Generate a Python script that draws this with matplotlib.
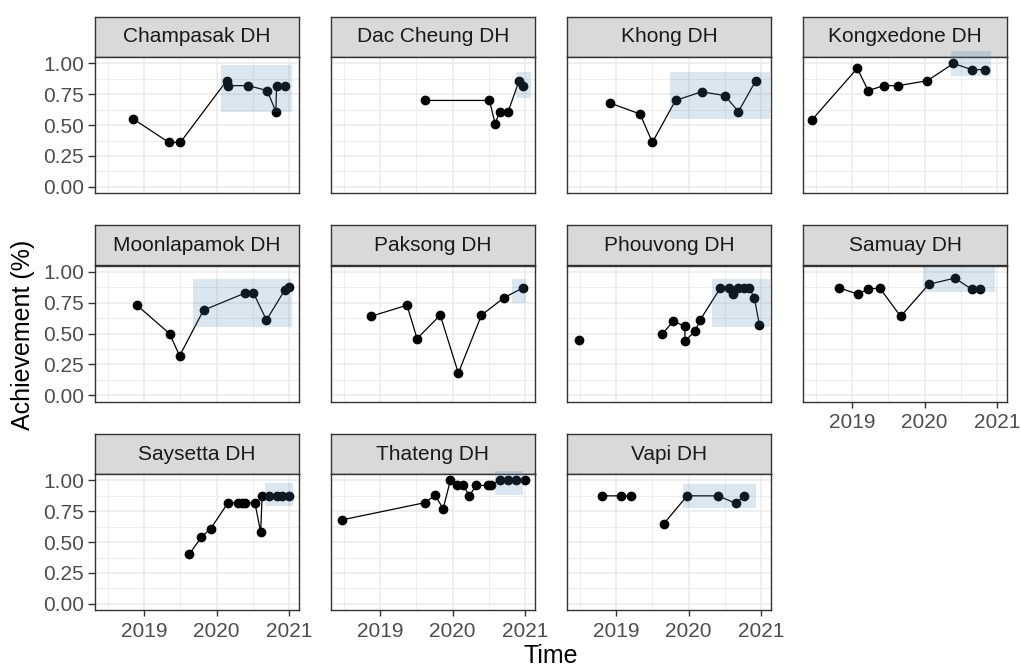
"""
Achievement over time for each district hospital, one small panel per site,
with the recent period highlighted as a shaded band.
"""

import matplotlib
matplotlib.use("Agg")
import matplotlib.pyplot as plt
import numpy as np
from matplotlib.patches import Rectangle

plt.rcParams["font.family"] = ["Liberation Sans", "DejaVu Sans"]

# ---- data (decimal years, achievement as a fraction) ----
facets = [
    "Champasak DH", "Dac Cheung DH", "Khong DH", "Kongxedone DH",
    "Moonlapamok DH", "Paksong DH", "Phouvong DH", "Samuay DH",
    "Saysetta DH", "Thateng DH", "Vapi DH",
]

champasak_t = [2018.85, 2019.34, 2019.50, 2020.14, 2020.16, 2020.44, 2020.70, 2020.82, 2020.83, 2020.95]
champasak_v = [0.55, 0.36, 0.36, 0.86, 0.82, 0.82, 0.78, 0.61, 0.82, 0.82]

dac_cheung_t = [2019.62, 2020.51, 2020.59, 2020.65, 2020.77, 2020.92, 2020.97]
dac_cheung_v = [0.70, 0.70, 0.51, 0.61, 0.61, 0.86, 0.82]

khong_t = [2018.91, 2019.33, 2019.50, 2019.82, 2020.18, 2020.50, 2020.69, 2020.93]
khong_v = [0.68, 0.59, 0.36, 0.70, 0.77, 0.74, 0.61, 0.86]

kongxedone_t = [2018.44, 2019.07, 2019.22, 2019.44, 2019.64, 2020.04, 2020.40, 2020.65, 2020.83]
kongxedone_v = [0.54, 0.96, 0.78, 0.82, 0.82, 0.86, 1.00, 0.95, 0.95]

moonlapamok_t = [2018.90, 2019.35, 2019.49, 2019.82, 2020.40, 2020.51, 2020.69, 2020.94, 2021.00]
moonlapamok_v = [0.73, 0.50, 0.32, 0.69, 0.83, 0.83, 0.61, 0.85, 0.875]

paksong_t = [2018.87, 2019.37, 2019.51, 2019.83, 2020.08, 2020.40, 2020.71, 2020.97]
paksong_v = [0.64, 0.73, 0.46, 0.65, 0.18, 0.65, 0.79, 0.87]

# NaN marks a missing month, which breaks the line
phouvong_t = [2018.49, 2019.00, 2019.64, 2019.79, 2019.95, 2019.95, 2020.09, 2020.16,
              2020.44, 2020.56, 2020.62, 2020.69, 2020.76, 2020.84, 2020.91, 2020.98]
phouvong_v = [0.45, np.nan, 0.50, 0.60, 0.56, 0.44, 0.52, 0.61,
              0.87, 0.87, 0.82, 0.87, 0.87, 0.87, 0.79, 0.57]

samuay_t = [2018.82, 2019.08, 2019.22, 2019.38, 2019.67, 2020.06, 2020.42, 2020.65, 2020.77]
samuay_v = [0.87, 0.82, 0.86, 0.87, 0.64, 0.90, 0.95, 0.86, 0.86]

saysetta_t = [2019.62, 2019.79, 2019.92, 2020.16, 2020.30, 2020.35, 2020.40, 2020.53,
              2020.61, 2020.63, 2020.73, 2020.83, 2020.91, 2021.00]
saysetta_v = [0.40, 0.54, 0.61, 0.82, 0.82, 0.82, 0.82, 0.82,
              0.58, 0.875, 0.875, 0.875, 0.875, 0.875]

thateng_t = [2018.47, 2019.62, 2019.76, 2019.87, 2019.97, 2020.06, 2020.15, 2020.23,
             2020.33, 2020.49, 2020.53, 2020.65, 2020.77, 2020.88, 2021.00]
thateng_v = [0.68, 0.82, 0.88, 0.77, 1.00, 0.96, 0.96, 0.875,
             0.96, 0.96, 0.96, 1.00, 1.00, 1.00, 1.00]

vapi_t = [2018.80, 2019.06, 2019.21, 2019.45, 2019.66, 2019.98, 2020.41, 2020.65, 2020.77]
vapi_v = [0.875, 0.875, 0.875, np.nan, 0.65, 0.875, 0.875, 0.815, 0.875]

series_t = [champasak_t, dac_cheung_t, khong_t, kongxedone_t, moonlapamok_t, paksong_t,
            phouvong_t, samuay_t, saysetta_t, thateng_t, vapi_t]
series_v = [champasak_v, dac_cheung_v, khong_v, kongxedone_v, moonlapamok_v, paksong_v,
            phouvong_v, samuay_v, saysetta_v, thateng_v, vapi_v]

# highlighted period per facet
band_xmin = [2020.06, 2020.88, 2019.74, 2020.36, 2019.68, 2020.82, 2020.32, 2019.98, 2020.67, 2020.59, 2019.93]
band_xmax = [2021.05, 2021.08, 2021.12, 2020.92, 2021.05, 2021.02, 2021.13, 2020.98, 2021.06, 2020.98, 2020.93]
band_ymin = [0.61, 0.72, 0.55, 0.90, 0.55, 0.75, 0.55, 0.84, 0.79, 0.88, 0.78]
band_ymax = [0.99, 0.93, 0.93, 1.10, 0.94, 0.94, 0.94, 1.04, 0.98, 1.08, 0.97]

year_ticks = [2019, 2020, 2021]
year_minor = [2018.5, 2019.5, 2020.5]
y_ticks = [0.0, 0.25, 0.5, 0.75, 1.0]
y_minor = [0.125, 0.375, 0.625, 0.875]

# ---- layout (pixels) ----
W, H = 1021, 669
ncol = 4
col_left = 95
col_pitch = 236
panel_w = 204
row_top = 57
row_pitch = 208.5
panel_h = 136
strip_h = 40

DARK = "#333333"
GRID = "#EBEBEB"
TICKTXT = "#4D4D4D"

fig = plt.figure(figsize=(W / 100, H / 100), dpi=100)


def px_box(left, top, width, height):
    return [left / W, 1 - (top + height) / H, width / W, height / H]


n = len(facets)
for i, name in enumerate(facets):
    r, c = divmod(i, ncol)
    left = col_left + c * col_pitch
    top = row_top + r * row_pitch

    # strip header
    sax = fig.add_axes(px_box(left, top - strip_h, panel_w, strip_h))
    sax.set_facecolor("#D9D9D9")
    sax.set_xticks([])
    sax.set_yticks([])
    for sp in sax.spines.values():
        sp.set_color(DARK)
        sp.set_linewidth(1.0)
    sax.text(0.5, 0.5, name, ha="center", va="center", fontsize=15,
             color="#1A1A1A", transform=sax.transAxes)

    ax = fig.add_axes(px_box(left, top, panel_w, panel_h))
    ax.set_xlim(2018.32, 2021.14)
    ax.set_ylim(-0.05, 1.052)

    ax.set_xticks(year_ticks)
    ax.set_xticks(year_minor, minor=True)
    ax.set_yticks(y_ticks)
    ax.set_yticks(y_minor, minor=True)
    ax.grid(True, which="major", color=GRID, linewidth=1.1, zorder=0)
    ax.grid(True, which="minor", color=GRID, linewidth=0.6, zorder=0)
    ax.set_axisbelow(True)
    for sp in ax.spines.values():
        sp.set_color(DARK)
        sp.set_linewidth(1.0)

    ax.plot(series_t[i], series_v[i], color="black", linewidth=0.9, zorder=2)
    ax.plot(series_t[i], series_v[i], "o", color="black", markersize=6, zorder=3)

    band = Rectangle((band_xmin[i], band_ymin[i]),
                     band_xmax[i] - band_xmin[i], band_ymax[i] - band_ymin[i],
                     facecolor="steelblue", alpha=0.2, edgecolor="none",
                     clip_on=False, zorder=4)
    ax.add_patch(band)

    show_y = c == 0
    show_x = (i + ncol) >= n
    ax.tick_params(which="minor", length=0)
    ax.tick_params(axis="y", which="major", length=5 if show_y else 0, width=1.0,
                   color=DARK, pad=3, labelsize=15, labelcolor=TICKTXT,
                   labelleft=show_y)
    ax.tick_params(axis="x", which="major", length=4.5 if show_x else 0, width=1.0,
                   color=DARK, pad=4, labelsize=15, labelcolor=TICKTXT,
                   labelbottom=show_x)
    ax.yaxis.set_major_formatter(matplotlib.ticker.FormatStrFormatter("%.2f"))
    ax.xaxis.set_major_formatter(matplotlib.ticker.FormatStrFormatter("%d"))

fig.text(23 / W, 1 - 335 / H, "Achievement (%)", rotation=90, ha="center",
         va="center", fontsize=18, color="black")
fig.text(551 / W, 1 - 656 / H, "Time", ha="center", va="center",
         fontsize=18, color="black")

fig.savefig("out.png", dpi=100)
